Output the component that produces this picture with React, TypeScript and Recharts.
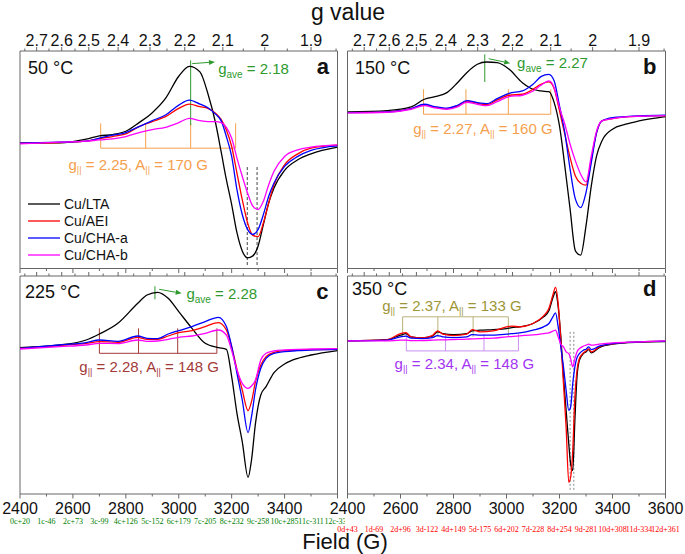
import React from 'react';
import { LineChart, Line, XAxis, YAxis, ReferenceLine, ReferenceDot, Legend } from 'recharts';

const FONT = 'Arial, "Liberation Sans", Helvetica, sans-serif';
const FRAME = '#666666';
const G_TIMES_FIELD = 6650;

const seriesNames = ['Cu/LTA', 'Cu/AEI', 'Cu/CHA-a', 'Cu/CHA-b'];
const seriesKeys = ['lta', 'aei', 'chaa', 'chab'];
const seriesColors = ['#000000', '#FF0000', '#0000FF', '#FF00FF'];

const fieldMajor = [2400, 2600, 2800, 3000, 3200, 3400, 3600];
const fieldMinor = [2500, 2700, 2900, 3100, 3300, 3500];
const gMajor = [2.7, 2.6, 2.5, 2.4, 2.3, 2.2, 2.1, 2, 1.9];
const gMinor = [2.75, 2.65, 2.55, 2.45, 2.35, 2.25, 2.15, 2.05, 1.95, 1.85];

const field50 = [2400, 2550, 2650, 2700, 2750, 2800, 2850, 2900, 2950, 3000, 3040, 3080, 3110, 3140, 3160, 3180, 3200, 3220, 3240, 3260, 3280, 3300, 3320, 3340, 3360, 3400, 3450, 3500, 3600];
const lta50 = [0, 0.3, 4, 7.3, 8.7, 12, 20.7, 30.7, 45, 67.3, 77.3, 71.7, 50, 19.3, -8.3, -36.7, -61.7, -90, -108.3, -115.3, -113.3, -103.3, -81.7, -60, -45, -27.3, -16.7, -10.7, -4];
const aei50 = [0, 0.7, 2, 4.7, 6.7, 9.3, 16.7, 21.7, 26.7, 35, 39.3, 36.7, 35, 30, 24, 13.3, -3.3, -30, -56.7, -80, -92.7, -94, -80, -60, -41.7, -21.7, -10.7, -5, -2];
const chaa50 = [0, 1, 2, 5, 8, 10.7, 16.7, 22.7, 28.3, 38.3, 43.3, 39.3, 35.7, 29, 22.7, 6.7, -13.3, -46.7, -71.7, -86.7, -91.7, -86.7, -71.7, -53.3, -40, -23.3, -13.3, -7.3, -2.7];
const chab50 = [-0.7, 1, 2, 3.3, 4.3, 6.7, 10.7, 13.7, 16, 20.7, 25, 22.7, 21.7, 21.7, 20.7, 16, 5, -15, -33.3, -50, -63.3, -66.7, -58.3, -41.7, -28.3, -13.3, -6.7, -4, -1.7];

const field150 = [2400, 2550, 2640, 2690, 2730, 2775, 2815, 2850, 2890, 2925, 2965, 3010, 3060, 3100, 3130, 3160, 3180, 3200, 3220, 3240, 3260, 3280, 3300, 3320, 3340, 3360, 3400, 3450, 3500, 3600];
const lta150 = [0, 1.3, 5, 12.7, 15.3, 19.3, 29.3, 39.3, 47.7, 50, 49.3, 42.7, 29.3, 22.7, 21, 20.3, 9.3, -14, -54, -97.3, -139, -143.3, -114, -74, -44, -29, -17.3, -12.3, -9, -4.7];
const aei150 = [-0.7, 0, 3.3, 7, 4.7, 3.3, 6, 10.7, 8.7, 7.3, 12, 16.7, 17.7, 22.7, 27.7, 30, 23.3, 1, -22.3, -45.7, -64, -71.3, -73.3, -47.3, -20.7, -9, -6.7, -5, -4.3, -3.7];
const chaa150 = [-0.7, 0, 3.3, 7.7, 5.3, 3.7, 6.7, 11.3, 9.3, 8.3, 13.3, 18.7, 21, 27.7, 35.3, 37.7, 31, 6, -20.7, -57.3, -87.3, -95.7, -80.7, -50.7, -20.7, -9, -5.7, -4.7, -4, -3.3];
const chab150 = [-1, -0.3, 2.7, 6.3, 4, 2.7, 5, 9.7, 7.7, 6.3, 10.3, 15.3, 16.7, 21, 26.7, 31, 24.3, 4.3, -12.3, -32.3, -49, -62.3, -70, -44, -19, -9, -6.7, -5, -4.3, -3.7];

const field225 = [2400, 2550, 2650, 2700, 2770, 2845, 2880, 2920, 2960, 3000, 3050, 3100, 3150, 3180, 3200, 3220, 3240, 3262, 3275, 3290, 3310, 3330, 3360, 3400, 3450, 3500, 3600];
const lta225 = [0.7, 3.3, 8.3, 14.3, 25, 45, 53.3, 56, 50, 36.7, 20, 5, 0.7, -1, -28.3, -65, -93.3, -129, -111.7, -75, -46.7, -38.3, -24.3, -15.7, -10, -6.7, -2.3];
const aei225 = [0, 2.7, 5, 6.7, 6, 11, 9, 9, 12.3, 15.7, 17.7, 21.7, 25.7, 18.3, 1.7, -21, -41.7, -62.3, -53.3, -33.3, -16.7, -8.3, -4, -2.3, -1.7, -1.3, -1];
const chaa225 = [0, 3.3, 5.7, 8.3, 7, 12.3, 10, 9.7, 14.3, 17.7, 21.7, 26.7, 31, 21.7, 1.7, -25, -51.7, -84.3, -68.3, -41.7, -20, -10, -5, -3.3, -2.3, -1.7, -1];
const chab225 = [-0.7, 1.7, 3.3, 5, 4.7, 8.3, 7, 7.3, 9, 11, 12.3, 15, 18.3, 13.3, -2.3, -21.7, -35, -40, -37.7, -31.7, -11.7, -5, -2.7, -1.7, -1, -0.7, -0.3];

const field350 = [2400, 2550, 2600, 2620, 2640, 2680, 2720, 2740, 2760, 2800, 2850, 2870, 2900, 2950, 3000, 3020, 3050, 3100, 3140, 3160, 3175, 3185, 3195, 3205, 3215, 3225, 3235, 3242, 3250, 3258, 3266, 3275, 3290, 3300, 3310, 3320, 3350, 3400, 3500, 3600];
const lta350 = [0, 1.3, 5.7, 7.3, 4, 3, 4.7, 9, 7.3, 6.3, 7.3, 10, 10.7, 11.3, 12.3, 13.3, 14, 17.3, 24, 30, 43, 49, 34, 4, -36, -69.3, -102.7, -122.7, -129.3, -79.3, -36, -19.3, -12.7, -11, -8.7, -12, -6.7, -3.3, -1.3, -0.7];
const aei350 = [0, 1.3, 7.3, 8.3, 4, 3, 5.3, 10, 6.7, 5.3, 6.7, 11.3, 9, 10, 14, 14.7, 14, 17.3, 25, 32.3, 45.7, 53.3, 37.3, 0.7, -42.7, -86, -141, -136, -109.3, -56, -29.3, -17.7, -12, -10, -8, -11, -6, -3, -1, -0.3];
const chaa350 = [0, 0.7, 4, 4.7, 2.7, 2.3, 3.3, 5.3, 4, 3.3, 4, 6.3, 5.7, 5.7, 6.7, 7.3, 8, 10.7, 14, 17.3, 24, 28, 14, -6, -26, -49.3, -69.3, -66, -42.7, -26, -16.7, -12.7, -9.3, -8.3, -6, -8.7, -5.3, -2.7, -1, -0.3];
const chab350 = [0, 0, 0.7, 0.7, 0.3, 0.3, 0.7, 1, 1, 1.3, 1.7, 2, 2.3, 2.7, 4, 4.3, 5, 6, 7.3, 8, 9.7, 10.7, 4, -3.3, -6, -11, -12.7, -17.7, -26, -17.7, -11, -7.7, -5.3, -4.3, -3.3, -4.3, -3.3, -2, -1, 0];

const buildRows = (field: number[], lta: number[], aei: number[], chaa: number[], chab: number[]) =>
  field.map((x, i) => ({ x, lta: lta[i], aei: aei[i], chaa: chaa[i], chab: chab[i] }));

const topTicks = [...gMajor, ...gMinor].map((g) => G_TIMES_FIELD / g).filter((b) => b >= 2400 && b <= 3600).sort((a, b) => a - b);
const bottomTicks = [...fieldMajor, ...fieldMinor].sort((a, b) => a - b);

const isMajorG = (b: number) => {
  const g = G_TIMES_FIELD / b;
  return Math.abs(g * 10 - Math.round(g * 10)) < 1e-6;
};

const makeTopTick = (showLabels: boolean) => (props: any) => {
  const { x, y, payload } = props;
  const b = Number(payload.value);
  const major = isMajorG(b);
  const len = major ? 4 : 2.5;
  const g = Math.round((G_TIMES_FIELD / b) * 10) / 10;
  return (
    <g>
      <line x1={x} x2={x} y1={y} y2={y - len} stroke={FRAME} strokeWidth={1} />
      {showLabels && major ? (
        <text x={x} y={y - 5} textAnchor="middle" fontSize={16} fontFamily={FONT} fill="#111">{String(g)}</text>
      ) : null}
    </g>
  );
};

const makeBottomTick = (showLabels: boolean, minLabel: number, maxLabel: number, dbg: string) => (props: any) => {
  const { x, y, payload, index } = props;
  const b = Number(payload.value);
  const major = Math.abs(b % 200) < 1e-6;
  const len = major ? 4.5 : 2.5;
  const ok = showLabels && major && b >= minLabel && b <= maxLabel;
  return (
    <g>
      <line x1={x} x2={x} y1={y} y2={y + len} stroke={FRAME} strokeWidth={1} />
      {ok ? (
        <text x={x} y={y + 19.5} textAnchor="middle" fontSize={16} fontFamily={FONT} fill="#111">{String(b)}</text>
      ) : null}
      {dbg ? <text x={x} y={y + 30 + (dbg === 'd' ? 8 : 0)} textAnchor="middle" fontSize={8} fill={dbg === 'd' ? 'red' : 'green'}>{`${index}${dbg}${ok ? '+' : '-'}${Math.round(x)}`}</text> : null}
    </g>
  );
};

const arrowShape = (color: string) => (p: any) => {
  const x1 = Number(p.x1), y1 = Number(p.y1), x2 = Number(p.x2), y2 = Number(p.y2);
  const ang = Math.atan2(y2 - y1, x2 - x1);
  const L = 6, W = 2.5;
  const bx = x2 - L * Math.cos(ang), by = y2 - L * Math.sin(ang);
  const px = -Math.sin(ang) * W, py = Math.cos(ang) * W;
  return (
    <g>
      <line x1={x1} y1={y1} x2={bx} y2={by} stroke={color} strokeWidth={1} />
      <polygon points={`${x2},${y2} ${bx + px},${by + py} ${bx - px},${by - py}`} fill={color} />
    </g>
  );
};

const gParShape = (color: string, g: string, A: string) => (p: any) => (
  <text x={p.cx} y={p.cy + 5} textAnchor="middle" fontSize={15} fontFamily={FONT} fill={color} style={{ whiteSpace: 'pre' }}>
    <tspan>g</tspan>
    <tspan fontSize={9} dy={3}>||</tspan>
    <tspan dy={-3}>{` = ${g}, A`}</tspan>
    <tspan fontSize={9} dy={3}>||</tspan>
    <tspan dy={-3}>{` = ${A} G`}</tspan>
  </text>
);

const gAveShape = (color: string, g: string) => (p: any) => (
  <text x={p.cx} y={p.cy + 4} textAnchor="start" fontSize={15} fontFamily={FONT} fill={color} style={{ whiteSpace: 'pre' }}>
    <tspan>g</tspan>
    <tspan fontSize={10} dy={4}>ave</tspan>
    <tspan dy={-4}>{` = ${g}`}</tspan>
  </text>
);

type Bracket = {
  color: string; textColor: string; fields: number[]; y1: number; y2: number; bar: number;
  textX: number; textY: number; g: string; A: string;
};
type GAve = { x: number; y1: number; y2: number; arrow: [number, number, number, number]; textX: number; textY: number; value: string };
type Dashes = { fields: number[]; y1: number; y2: number; color: string; dash: string };

type PanelSpec = {
  id: string;
  rows: any[];
  yDomain: [number, number];
  left: number; top: number; width: number; height: number;
  margin: { top: number; right: number; bottom: number; left: number };
  topH: number; botH: number;
  topLabels: boolean; bottomLabels: boolean; bottomLabelMin: number; bottomLabelMax: number;
  legend?: boolean;
  gave?: GAve;
  brackets: Bracket[];
  dashes?: Dashes;
};

const GREEN = '#2E9A2E';
const ORANGE = '#F5A04C';
const DARKRED = '#A33A3A';
const OLIVE_T = '#9E9636';
const OLIVE_B = '#B9B27A';
const PURPLE_T = '#A335F2';
const PURPLE_B = '#C990F2';

const panels: PanelSpec[] = [
  {
    id: 'a', rows: buildRows(field50, lta50, aei50, chaa50, chab50), yDomain: [-126, 92.7],
    left: 0, top: 0, width: 345, height: 275, margin: { top: 0, right: 7.5, bottom: 0, left: 20 },
    topH: 51, botH: 6.5, topLabels: true, bottomLabels: false, bottomLabelMin: 2400, bottomLabelMax: 3400, legend: true,
    gave: { x: 3045, y1: 83.3, y2: 18, arrow: [3051, 80, 3137, 81.7], textX: 3149, textY: 73.3, value: '2.18' },
    brackets: [{ color: ORANGE, textColor: ORANGE, fields: [2705, 2875, 3045, 3215], y1: 20, y2: -5, bar: -5, textX: 2847, textY: -21.7, g: '2.25', A: '170' }],
    dashes: { fields: [3259, 3296], y1: -24, y2: -123, color: '#444', dash: '3 2' },
  },
  {
    id: 'b', rows: buildRows(field150, lta150, aei150, chaa150, chab150), yDomain: [-156.7, 61],
    left: 305, top: 0, width: 380, height: 275, margin: { top: 0, right: 19.5, bottom: 0, left: 42.5 },
    topH: 51, botH: 6.5, topLabels: true, bottomLabels: false, bottomLabelMin: 2400, bottomLabelMax: 3600,
    gave: { x: 2918, y1: 57.7, y2: 30, arrow: [2933, 53.3, 3014, 48.7], textX: 3040, textY: 47.7, value: '2.27' },
    brackets: [{ color: ORANGE, textColor: ORANGE, fields: [2687, 2847, 3007, 3167], y1: 22.7, y2: -2.3, bar: -2.3, textX: 2911, textY: -17.3, g: '2.27', A: '160' }],
  },
  {
    id: 'c', rows: buildRows(field225, lta225, aei225, chaa225, chab225), yDomain: [-145.7, 72.3],
    left: 0, top: 270, width: 345, height: 284, margin: { top: 0, right: 7.5, bottom: 0, left: 20 },
    topH: 6, botH: 60, topLabels: false, bottomLabels: true, bottomLabelMin: 2400, bottomLabelMax: 3400,
    gave: { x: 2910, y1: 62, y2: 49, arrow: [2926, 59, 3011, 55], textX: 3029, textY: 53.3, value: '2.28' },
    brackets: [{ color: DARKRED, textColor: DARKRED, fields: [2700, 2848, 2996, 3144], y1: 20, y2: -5, bar: -5, textX: 2888, textY: -18.3, g: '2.28', A: '148' }],
  },
  {
    id: 'd', rows: buildRows(field350, lta350, aei350, chaa350, chab350), yDomain: [-152.7, 64.7],
    left: 305, top: 270, width: 380, height: 284, margin: { top: 0, right: 19.5, bottom: 0, left: 42.5 },
    topH: 6, botH: 60, topLabels: false, bottomLabels: true, bottomLabelMin: 2400, bottomLabelMax: 3600,
    brackets: [
      { color: OLIVE_B, textColor: OLIVE_T, fields: [2608, 2741, 2874, 3007], y1: 24, y2: 4, bar: 24, textX: 2794, textY: 35, g: '2.37', A: '133' },
      { color: PURPLE_B, textColor: PURPLE_T, fields: [2622, 2770, 2915, 3045], y1: 7, y2: -10, bar: -10, textX: 2841, textY: -22.7, g: '2.34', A: '148' },
    ],
    dashes: { fields: [3240, 3254], y1: 9, y2: -149, color: '#888', dash: '2 2' },
  },
];

const panelTitles = [
  { t: '50 °C', x: 28, y: 74, bold: false },
  { t: 'a', x: 329, y: 74, bold: true },
  { t: '150 °C', x: 355, y: 73.5, bold: false },
  { t: 'b', x: 656.5, y: 73.5, bold: true },
  { t: '225 °C', x: 25, y: 298, bold: false },
  { t: 'c', x: 328.5, y: 298.5, bold: true },
  { t: '350 °C', x: 352, y: 295, bold: false },
  { t: 'd', x: 656.5, y: 296, bold: true },
];

const renderLegend = () => (
  <svg width={120} height={72} style={{ display: 'block' }}>
    {seriesNames.map((n, i) => (
      <g key={n}>
        <line x1={2} x2={34} y1={9 + i * 17} y2={9 + i * 17} stroke={seriesColors[i]} strokeWidth={1.3} />
        <text x={38} y={9 + i * 17 + 5} fontSize={14} fontFamily={FONT} fill="#111">{n}</text>
      </g>
    ))}
  </svg>
);

function buildAnnotations(s: PanelSpec) {
  const out: React.ReactNode[] = [];
  const ax = { xAxisId: 'b', yAxisId: 'l', ifOverflow: 'visible' as const };
  out.push(<ReferenceLine key="fl" {...ax} x={2400} stroke={FRAME} strokeWidth={1} />);
  out.push(<ReferenceLine key="fr" {...ax} x={3600} stroke={FRAME} strokeWidth={1} />);
  s.brackets.forEach((br, bi) => {
    br.fields.forEach((f, fi) => {
      out.push(<ReferenceLine key={`bv${bi}-${fi}`} {...ax} segment={[{ x: f, y: br.y1 }, { x: f, y: br.y2 }]} stroke={br.color} strokeWidth={1} />);
    });
    out.push(<ReferenceLine key={`bh${bi}`} {...ax} segment={[{ x: br.fields[0], y: br.bar }, { x: br.fields[br.fields.length - 1], y: br.bar }]} stroke={br.color} strokeWidth={1} />);
    out.push(<ReferenceDot key={`bt${bi}`} {...ax} x={br.textX} y={br.textY} r={0} shape={gParShape(br.textColor, br.g, br.A)} />);
  });
  if (s.gave) {
    const g = s.gave;
    out.push(<ReferenceLine key="gl" {...ax} segment={[{ x: g.x, y: g.y1 }, { x: g.x, y: g.y2 }]} stroke={GREEN} strokeWidth={1} />);
    out.push(<ReferenceLine key="ga" {...ax} segment={[{ x: g.arrow[0], y: g.arrow[1] }, { x: g.arrow[2], y: g.arrow[3] }]} stroke={GREEN} shape={arrowShape(GREEN)} />);
    out.push(<ReferenceDot key="gt" {...ax} x={g.textX} y={g.textY} r={0} shape={gAveShape(GREEN, g.value)} />);
  }
  if (s.dashes) {
    const d = s.dashes;
    d.fields.forEach((f, i) => {
      out.push(<ReferenceLine key={`d${i}`} {...ax} segment={[{ x: f, y: d.y1 }, { x: f, y: d.y2 }]} stroke={d.color} strokeWidth={1} strokeDasharray={d.dash} />);
    });
  }
  return out;
}

function Panel({ s }: { s: PanelSpec }) {
  const dbg = s.id === 'c' || s.id === 'd' ? s.id : '';
  return (
    <div style={{ position: 'absolute', left: s.left, top: s.top, width: s.width, height: s.height }}>
      <LineChart width={s.width} height={s.height} data={s.rows} margin={s.margin}>
        <XAxis xAxisId="t" orientation="top" type="number" dataKey="x" domain={[2400, 3600]} allowDataOverflow
          ticks={topTicks} interval={0} tick={makeTopTick(s.topLabels)} tickLine={false} tickSize={0} tickMargin={0}
          height={s.topH} axisLine={{ stroke: FRAME, strokeWidth: 1 }} />
        <XAxis xAxisId="b" orientation="bottom" type="number" dataKey="x" domain={[2400, 3600]} allowDataOverflow
          ticks={bottomTicks} interval={0} tick={makeBottomTick(s.bottomLabels, s.bottomLabelMin, s.bottomLabelMax, dbg)} tickLine={false} tickSize={0} tickMargin={0}
          height={s.botH} axisLine={{ stroke: FRAME, strokeWidth: 1 }} />
        <YAxis yAxisId="l" type="number" domain={s.yDomain} allowDataOverflow hide />
        {buildAnnotations(s)}
        {seriesKeys.map((k, i) => (
          <Line key={k} xAxisId="b" yAxisId="l" type="monotone" dataKey={k} name={seriesNames[i]} stroke={seriesColors[i]}
            strokeWidth={1.3} dot={false} activeDot={false} isAnimationActive={false} />
        ))}
        {s.legend ? (
          <Legend layout="vertical" align="center" verticalAlign="middle" content={renderLegend}
            wrapperStyle={{ left: 26, top: 195, width: 120, height: 72 }} />
        ) : null}
      </LineChart>
    </div>
  );
}

export default function App() {
  const order = [panels[0], panels[2], panels[1], panels[3]];
  return (
    <div style={{ position: 'absolute', left: 0, top: 0, width: 685, height: 554, background: '#fff' }}>
      <svg width={685} height={554} style={{ position: 'absolute', left: 0, top: 0, pointerEvents: 'none' }}>
        <text x={348} y={20} textAnchor="middle" fontSize={23} fontFamily={FONT} fill="#111">g value</text>
        <text x={345} y={549} textAnchor="middle" fontSize={22} fontFamily={FONT} fill="#111">Field (G)</text>
        {panelTitles.map((p) => (
          <text key={p.t} x={p.x} y={p.y} textAnchor={p.bold ? 'end' : 'start'} fontSize={p.bold ? 22 : 18}
            fontWeight={p.bold ? 'bold' : 'normal'} fontFamily={FONT} fill="#111">{p.t}</text>
        ))}
      </svg>
      {order.map((s) => <Panel key={s.id} s={s} />)}
    </div>
  );
}
